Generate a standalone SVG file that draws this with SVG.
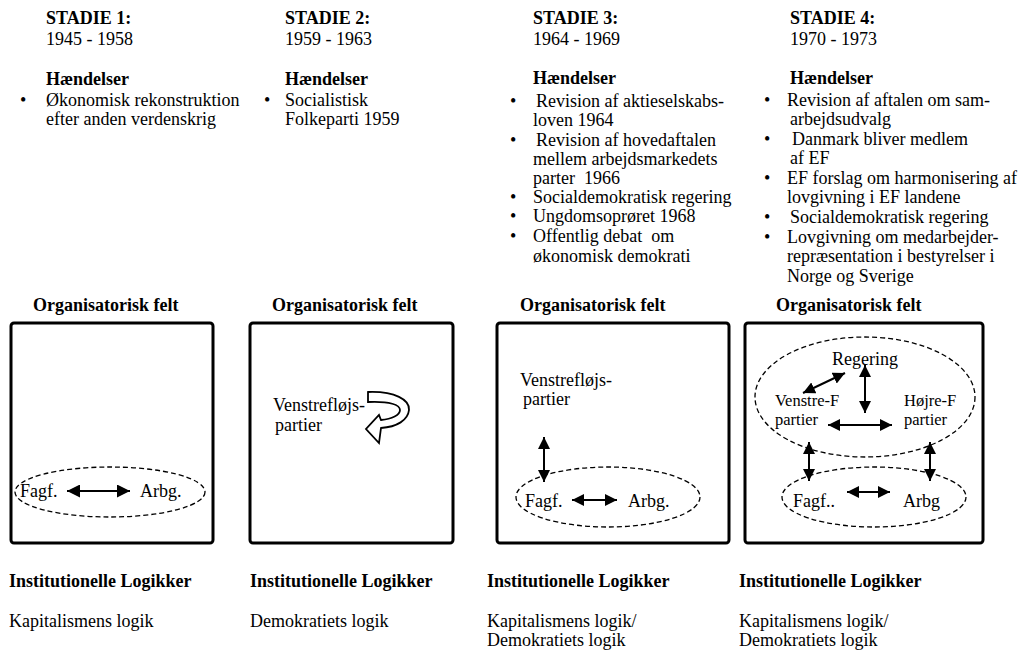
<svg xmlns="http://www.w3.org/2000/svg" width="1033" height="652" viewBox="0 0 1033 652">
<style>
text{font-family:"Liberation Serif","Times New Roman",serif;font-size:18px;fill:#000}
.b{font-weight:bold}
.s{font-size:16.5px}
.box{fill:none;stroke:#000;stroke-width:3}
.ell{fill:none;stroke:#000;stroke-width:1.3;stroke-dasharray:5 3}
.arr{stroke:#000;stroke-width:2;fill:none;marker-start:url(#ah);marker-end:url(#ah)}
.arrL{stroke:#000;stroke-width:2;fill:none;marker-start:url(#ahL);marker-end:url(#ahL)}
</style>
<defs>
<marker id="ah" markerUnits="userSpaceOnUse" markerWidth="12" markerHeight="12" refX="10" refY="5" orient="auto-start-reverse" viewBox="0 0 10 10">
<path d="M0,0 L10,5 L0,10 z" fill="#000"/>
</marker>
<marker id="ahL" markerUnits="userSpaceOnUse" markerWidth="14" markerHeight="13" refX="10" refY="5" orient="auto-start-reverse" viewBox="0 0 10 10">
<path d="M0,0 L10,5 L0,10 z" fill="#000"/>
</marker>
</defs>
<rect width="1033" height="652" fill="#fff"/>

<g id="stadie1">
<text class="b" x="46" y="24">STADIE 1:</text>
<text x="46" y="45">1945 - 1958</text>
<text class="b" x="46" y="85">Hændelser</text>
<text x="20" y="106">•</text>
<text x="46" y="106">Økonomisk rekonstruktion</text>
<text x="46" y="125">efter anden verdenskrig</text>
</g>
<g id="stadie2">
<text class="b" x="285" y="24">STADIE 2:</text>
<text x="285" y="45">1959 - 1963</text>
<text class="b" x="285" y="85">Hændelser</text>
<text x="264" y="106">•</text>
<text x="285" y="106">Socialistisk</text>
<text x="285" y="125">Folkeparti 1959</text>
</g>
<g id="stadie3">
<text class="b" x="533" y="24">STADIE 3:</text>
<text x="533" y="45">1964 - 1969</text>
<text class="b" x="533" y="84">Hændelser</text>
<text x="510" y="107">•</text>
<text x="536" y="107">Revision af aktieselskabs-</text>
<text x="533" y="126">loven 1964</text>
<text x="510" y="146">•</text>
<text x="536" y="146">Revision af hovedaftalen</text>
<text x="533" y="165">mellem arbejdsmarkedets</text>
<text x="533" y="184" xml:space="preserve">parter  1966</text>
<text x="510" y="203">•</text>
<text x="533" y="203">Socialdemokratisk regering</text>
<text x="510" y="222">•</text>
<text x="533" y="222">Ungdomsoprøret 1968</text>
<text x="510" y="242">•</text>
<text x="533" y="242" xml:space="preserve">Offentlig debat  om</text>
<text x="533" y="262">økonomisk demokrati</text>
</g>
<g id="stadie4">
<text class="b" x="790" y="24">STADIE 4:</text>
<text x="790" y="45">1970 - 1973</text>
<text class="b" x="790" y="84">Hændelser</text>
<text x="764" y="106">•</text>
<text x="787" y="106">Revision af aftalen om sam-</text>
<text x="790" y="125">arbejdsudvalg</text>
<text x="764" y="145">•</text>
<text x="792" y="145">Danmark bliver medlem</text>
<text x="790" y="164">af EF</text>
<text x="764" y="184">•</text>
<text x="787" y="184">EF forslag om harmonisering af</text>
<text x="787" y="203">lovgivning i EF landene</text>
<text x="764" y="223">•</text>
<text x="790" y="223">Socialdemokratisk regering</text>
<text x="764" y="243">•</text>
<text x="787" y="243">Lovgivning om medarbejder-</text>
<text x="787" y="262">repræsentation i bestyrelser i</text>
<text x="787" y="282">Norge og Sverige</text>
</g>

<g id="felt1">
<text class="b" x="33" y="311">Organisatorisk felt</text>
<rect class="box" x="11" y="323" width="202" height="220" rx="3"/>
<ellipse class="ell" cx="110" cy="492" rx="95" ry="25"/>
<text x="20" y="497">Fagf.</text>
<text x="140" y="497">Arbg.</text>
</g>
<g id="felt2">
<text class="b" x="272" y="311">Organisatorisk felt</text>
<rect class="box" x="250" y="323" width="203" height="220" rx="3"/>
<text x="273" y="411">Venstrefløjs-</text>
<text x="275" y="431">partier</text>
<path d="M368,392 C395,391 410,400 409,410 C408,420 397,427 381,428 L379,443 L366,429 L379,415 L381,420 C392,419 400,415 400,410 C400,405 390,401 368,402 Z" fill="#fff" stroke="#000" stroke-width="1.8" stroke-linejoin="miter"/>
</g>
<g id="felt3">
<text class="b" x="520" y="311">Organisatorisk felt</text>
<rect class="box" x="497" y="323" width="232" height="220" rx="3"/>
<text x="520" y="386">Venstrefløjs-</text>
<text x="523" y="405">partier</text>
<ellipse class="ell" cx="608" cy="497" rx="92" ry="30"/>
<text x="525" y="507">Fagf.</text>
<text x="628" y="507">Arbg.</text>
</g>
<g id="felt4">
<text class="b" x="776" y="311">Organisatorisk felt</text>
<rect class="box" x="745" y="323" width="238" height="220" rx="3"/>
<ellipse class="ell" cx="865" cy="397" rx="110" ry="60"/>
<ellipse class="ell" cx="874" cy="497" rx="92" ry="30"/>
<text x="832" y="365">Regering</text>
<text class="s" x="775" y="406">Venstre-F</text>
<text class="s" x="775" y="425">partier</text>
<text class="s" x="904" y="406">Højre-F</text>
<text class="s" x="904" y="425">partier</text>
<text x="793" y="507">Fagf..</text>
<text x="903" y="507">Arbg</text>
</g>

<g id="connectors">
<path class="arrL" d="M67,491 L130,491"/>
<path class="arr" d="M544,437 L544,482"/>
<path class="arr" d="M572,500 L617,500"/>
<path class="arr" d="M803,393 L845,373"/>
<path class="arr" d="M865,365 L865,413"/>
<path class="arr" d="M828,425 L892,425"/>
<path class="arr" d="M809,442 L809,481"/>
<path class="arr" d="M930,442 L930,481"/>
<path class="arr" d="M847,492 L890,492"/>
</g>

<g id="logikker">
<text class="b" x="9" y="587">Institutionelle Logikker</text>
<text x="9" y="627">Kapitalismens logik</text>
<text class="b" x="250" y="587">Institutionelle Logikker</text>
<text x="250" y="627">Demokratiets logik</text>
<text class="b" x="487" y="587">Institutionelle Logikker</text>
<text x="487" y="627">Kapitalismens logik/</text>
<text x="487" y="646">Demokratiets logik</text>
<text class="b" x="739" y="587">Institutionelle Logikker</text>
<text x="739" y="627">Kapitalismens logik/</text>
<text x="739" y="646">Demokratiets logik</text>
</g>
</svg>
